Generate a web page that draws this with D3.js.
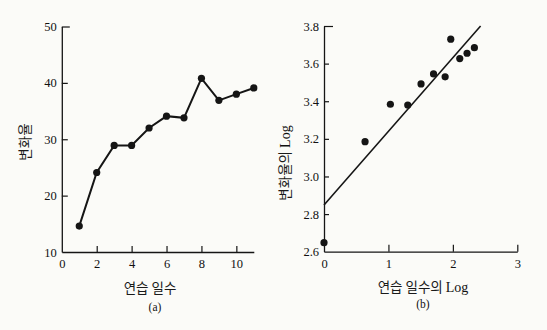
<!DOCTYPE html>
<html><head><meta charset="utf-8">
<script src="https://cdn.jsdelivr.net/npm/d3@7"></script>
<style>
html,body{margin:0;padding:0;background:#fbfbf8;}
svg{display:block;}
.num{font-family:"Liberation Serif","DejaVu Serif",serif;font-size:12.5px;fill:#111;}
.kr{font-family:"Noto Sans CJK KR","Noto Sans",sans-serif;font-size:13.5px;fill:#1a1a1a;}
</style></head>
<body>
<script>
// Panel (a): 연습 일수 vs 변화율
const daysA = [1,2,3,4,5,6,7,8,9,10,11];
const rateA = [14.6,24.1,28.9,28.9,32.0,34.1,33.8,40.8,36.9,38.0,39.1];
const xTicksA = [0,2,4,6,8,10];
const yTicksA = [10,20,30,40,50];
// Panel (b): log-log
const logDaysB = [0,0.637,1.03,1.30,1.506,1.70,1.88,1.967,2.107,2.22,2.334];
const logRateB = [2.648,3.185,3.384,3.38,3.492,3.545,3.53,3.73,3.627,3.655,3.685];
const fitX = [0,2.43];
const fitY = [2.848,3.80];
const xTicksB = [0,1,2,3];
const yTicksB = [2.6,2.8,3.0,3.2,3.4,3.6,3.8];

const W=547,H=330,ink="#151515";
const svg=d3.select("body").append("svg").attr("width",W).attr("height",H);

function styleAxis(g){
  g.select(".domain").attr("stroke",ink).attr("stroke-width",1.3);
  g.selectAll(".tick line").attr("stroke",ink).attr("stroke-width",1.2);
  g.selectAll(".tick text").attr("class","num").attr("fill",ink).style("font-size","12.5px");
}

// ---- Panel A ----
const xa=d3.scaleLinear().domain([0,11]).range([61.8,253.8]);
const ya=d3.scaleLinear().domain([10,50]).range([252,26.5]);
const gA=svg.append("g");
gA.append("g").attr("transform","translate(0,252)")
  .call(d3.axisBottom(xa).tickValues(xTicksA).tickFormat(d3.format("d")).tickSizeInner(-6).tickSizeOuter(0).tickPadding(7))
  .call(styleAxis)
  .call(g=>g.selectAll(".tick").filter(d=>d===0).select("line").remove());
gA.append("g").attr("transform","translate(61.8,0)")
  .call(d3.axisLeft(ya).tickValues(yTicksA).tickFormat(d3.format("d")).tickSizeInner(-6).tickSizeOuter(0).tickPadding(5))
  .call(styleAxis)
  .call(g=>g.selectAll(".tick").filter(d=>d===10).select("line").remove())
  .call(g=>g.selectAll(".tick").filter(d=>d===50).select("line").attr("x2",8));
gA.append("path").datum(daysA.map((d,i)=>[d,rateA[i]]))
  .attr("fill","none").attr("stroke",ink).attr("stroke-width",2)
  .attr("d",d3.line().x(d=>xa(d[0])).y(d=>ya(d[1])));
gA.selectAll("circle").data(daysA.map((d,i)=>[d,rateA[i]])).join("circle")
  .attr("cx",d=>xa(d[0])).attr("cy",d=>ya(d[1])).attr("r",3.6).attr("fill",ink);
svg.append("text").attr("class","kr").attr("x",150).attr("y",293).attr("text-anchor","middle").text("연습 일수");
svg.append("text").attr("class","num").style("font-size","11.5px").attr("x",155).attr("y",311).attr("text-anchor","middle").text("(a)");
svg.append("text").attr("class","kr").attr("transform","translate(30,142) rotate(-90)").attr("text-anchor","middle").text("변화율");

// ---- Panel B ----
const xb=d3.scaleLinear().domain([0,3]).range([324,517.3]);
const yb=d3.scaleLinear().domain([2.6,3.8]).range([251.7,26]);
const gB=svg.append("g");
gB.append("g").attr("transform","translate(0,251.7)")
  .call(d3.axisBottom(xb).tickValues(xTicksB).tickFormat(d3.format("d")).tickSizeInner(-7).tickSizeOuter(0).tickPadding(7))
  .call(styleAxis)
  .call(g=>g.selectAll(".tick").filter(d=>d===0).select("line").remove());
gB.append("g").attr("transform","translate(324,0)")
  .call(d3.axisLeft(yb).tickValues(yTicksB).tickFormat(d3.format(".1f")).tickSizeInner(-5).tickSizeOuter(0).tickPadding(5))
  .call(styleAxis)
  .call(g=>g.selectAll(".tick").filter(d=>d===2.6).select("line").remove())
  .call(g=>g.selectAll(".tick").filter(d=>Math.abs(d-3.8)<1e-9).select("line").attr("x2",9));
gB.append("line").attr("x1",xb(fitX[0])).attr("y1",yb(fitY[0])).attr("x2",xb(fitX[1])).attr("y2",yb(fitY[1]))
  .attr("stroke",ink).attr("stroke-width",1.6);
gB.selectAll("circle").data(logDaysB.map((d,i)=>[d,logRateB[i]])).join("circle")
  .attr("cx",d=>xb(d[0])).attr("cy",d=>yb(d[1])).attr("r",3.6).attr("fill",ink);
const xl=svg.append("text").attr("class","kr").attr("x",423).attr("y",292).attr("text-anchor","middle");
xl.append("tspan").text("연습 일수의 ");
xl.append("tspan").attr("class","num").style("font-size","14px").text("Log");
svg.append("text").attr("class","num").style("font-size","11.5px").attr("x",423).attr("y",308).attr("text-anchor","middle").text("(b)");
const yl=svg.append("text").attr("class","kr").attr("transform","translate(290,163) rotate(-90)").attr("text-anchor","middle");
yl.append("tspan").text("변화율의 ");
yl.append("tspan").attr("class","num").style("font-size","14px").text("Log");
</script>
</body></html>
